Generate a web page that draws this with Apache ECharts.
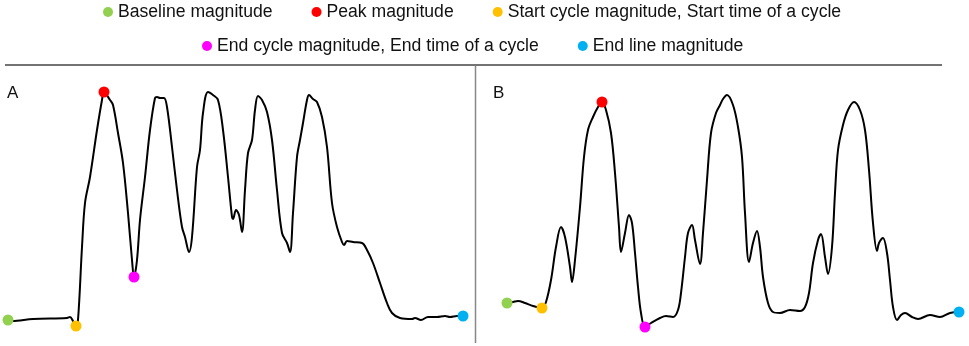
<!DOCTYPE html>
<html>
<head>
<meta charset="utf-8">
<title>Cycle magnitudes</title>
<script src="https://cdn.jsdelivr.net/npm/echarts@6/dist/echarts.min.js"></script>
<style>
  html, body { margin: 0; padding: 0; background: #fff; }
  #chart { width: 969px; height: 346px; }
</style>
</head>
<body>
<div id="chart"></div>
<script>
// panel A trace (time, magnitude)
const timeA = [8, 12, 33, 67, 70, 73, 76, 78, 82, 85, 90, 97, 102, 104, 110, 113, 118, 123, 128, 132,
  134, 137, 140, 145, 150, 155, 157, 160, 164, 167, 172, 177, 182, 185, 189, 192, 197, 200, 203, 208,
  213, 218, 223, 228, 232, 233, 236, 239, 242, 245, 248, 252, 255, 258, 262, 267, 272, 277, 282, 287,
  290, 293, 297, 300, 303, 307, 309, 313, 317, 322, 327, 332, 337, 342, 344, 347, 353, 362, 367, 373,
  380, 387, 392, 400, 412, 415, 421, 428, 437, 445, 450, 457, 463];
const magA = [26, 25, 27, 28, 29, 25, 20, 26, 99, 143, 169, 216, 246, 254, 246, 241, 213, 183, 133, 86,
  69, 86, 126, 169, 216, 248, 249, 248, 248, 239, 199, 156, 119, 109, 94, 109, 179, 196, 233, 254,
  251, 246, 216, 169, 129, 127, 136, 131, 114, 156, 193, 206, 236, 250, 246, 234, 206, 156, 113, 103,
  94, 133, 189, 206, 223, 246, 251, 247, 244, 229, 199, 143, 119, 104, 101, 105, 104, 103, 96, 83,
  63, 43, 33, 28, 27, 28, 26, 29, 29, 30, 29, 30, 30];

// panel B trace (time, magnitude)
const timeB = [29, 35, 40, 47, 55, 64, 68, 73, 78, 83, 87, 92, 94, 97, 102, 106, 110, 115, 120, 124,
  128, 133, 137, 141, 143, 147, 151, 154, 157, 160, 163, 167, 173, 182, 188, 195, 200, 203, 207, 210,
  214, 217, 222, 225, 229, 233, 238, 242, 245, 249, 255, 260, 264, 267, 271, 275, 279, 282, 285, 290,
  295, 302, 312, 322, 327, 331, 335, 340, 343, 347, 350, 354, 357, 360, 365, 370, 376, 382, 387, 391,
  395, 399, 401, 405, 409, 412, 415, 419, 423, 427, 434, 440, 452, 462, 472, 481];
const magB = [43, 44, 45, 43, 40, 38, 44, 66, 99, 119, 109, 79, 64, 86, 139, 189, 216, 229, 239, 244,
  236, 213, 173, 119, 94, 113, 131, 123, 93, 59, 33, 19, 23, 28, 30, 29, 36, 53, 89, 113,
  121, 106, 82, 113, 166, 213, 233, 241, 247, 251, 241, 219, 189, 133, 84, 103, 115, 99, 69, 43,
  34, 33, 36, 35, 39, 53, 83, 106, 112, 89, 72, 99, 153, 196, 221, 236, 244, 236, 216, 176,
  123, 95, 103, 108, 93, 66, 39, 26, 31, 33, 29, 27, 31, 29, 33, 34];

// key points: baseline, peak, start cycle, end cycle, end line (index into traces)
const markerNames = ['Baseline magnitude', 'Peak magnitude', 'Start cycle magnitude, Start time of a cycle',
  'End cycle magnitude, End time of a cycle', 'End line magnitude'];
const markerColors = ['#92d050', '#ff0000', '#ffc000', '#ff00ff', '#00b0f0'];
const markerIdxA = [0, 13, 6, 20, timeA.length - 1];
const markerIdxB = [0, 19, 5, 31, timeB.length - 1];

const chart = echarts.init(document.getElementById('chart'));

const zip = (xs, ys) => xs.map((x, i) => [x, ys[i]]);

const curveStyle = {
  type: 'line',
  smooth: 0.35,
  showSymbol: false,
  silent: true,
  lineStyle: { color: '#000', width: 2 },
  z: 2
};

const series = [
  Object.assign({ name: 'A', xAxisIndex: 0, yAxisIndex: 0, data: zip(timeA, magA) }, curveStyle),
  Object.assign({ name: 'B', xAxisIndex: 1, yAxisIndex: 1, data: zip(timeB, magB) }, curveStyle)
];

markerNames.forEach((name, k) => {
  const ia = markerIdxA[k];
  const ib = markerIdxB[k];
  series.push({
    name: name, type: 'scatter', xAxisIndex: 0, yAxisIndex: 0,
    symbolSize: 11, itemStyle: { color: markerColors[k], opacity: 1 }, z: 5,
    data: [[timeA[ia], magA[ia]]]
  });
  series.push({
    name: name, type: 'scatter', xAxisIndex: 1, yAxisIndex: 1,
    symbolSize: 11, itemStyle: { color: markerColors[k], opacity: 1 }, z: 5,
    data: [[timeB[ib], magB[ib]]]
  });
});

const hiddenAxis = (min, max) => ({
  type: 'value', min: min, max: max,
  axisLine: { show: false }, axisTick: { show: false },
  axisLabel: { show: false }, splitLine: { show: false }
});

const legendBase = {
  orient: 'horizontal',
  icon: 'circle',
  itemWidth: 10,
  itemHeight: 10,
  itemGap: 39,
  padding: 0,
  selectedMode: false,
  itemStyle: { opacity: 1 },
  textStyle: { fontFamily: 'Liberation Sans', fontSize: 17.6, color: '#111' }
};

const option = {
  animation: false,
  backgroundColor: '#fff',
  legend: [
    Object.assign({ left: 103, top: 3, data: markerNames.slice(0, 3) }, legendBase),
    Object.assign({ left: 202, top: 37, data: markerNames.slice(3) }, legendBase)
  ],
  title: [
    { text: 'A', left: 7, top: 85, padding: 0,
      textStyle: { fontFamily: 'Liberation Sans', fontSize: 17, fontWeight: 'normal', color: '#111' } },
    { text: 'B', left: 493, top: 85, padding: 0,
      textStyle: { fontFamily: 'Liberation Sans', fontSize: 17, fontWeight: 'normal', color: '#111' } }
  ],
  grid: [
    { left: 0, top: 66, width: 477, height: 280 },
    { left: 478, top: 66, width: 491, height: 280 }
  ],
  xAxis: [hiddenAxis(0, 477), Object.assign(hiddenAxis(0, 491), { gridIndex: 1 })],
  yAxis: [hiddenAxis(0, 280), Object.assign(hiddenAxis(0, 280), { gridIndex: 1 })],
  graphic: [
    { type: 'line', silent: true, shape: { x1: 5, y1: 65, x2: 942, y2: 65 },
      style: { stroke: '#444', lineWidth: 1.5 } },
    { type: 'line', silent: true, shape: { x1: 475.5, y1: 66, x2: 475.5, y2: 343 },
      style: { stroke: '#888', lineWidth: 1.5 } }
  ],
  series: series
};

chart.setOption(option);
window.addEventListener('resize', () => chart.resize());
</script>
</body>
</html>
